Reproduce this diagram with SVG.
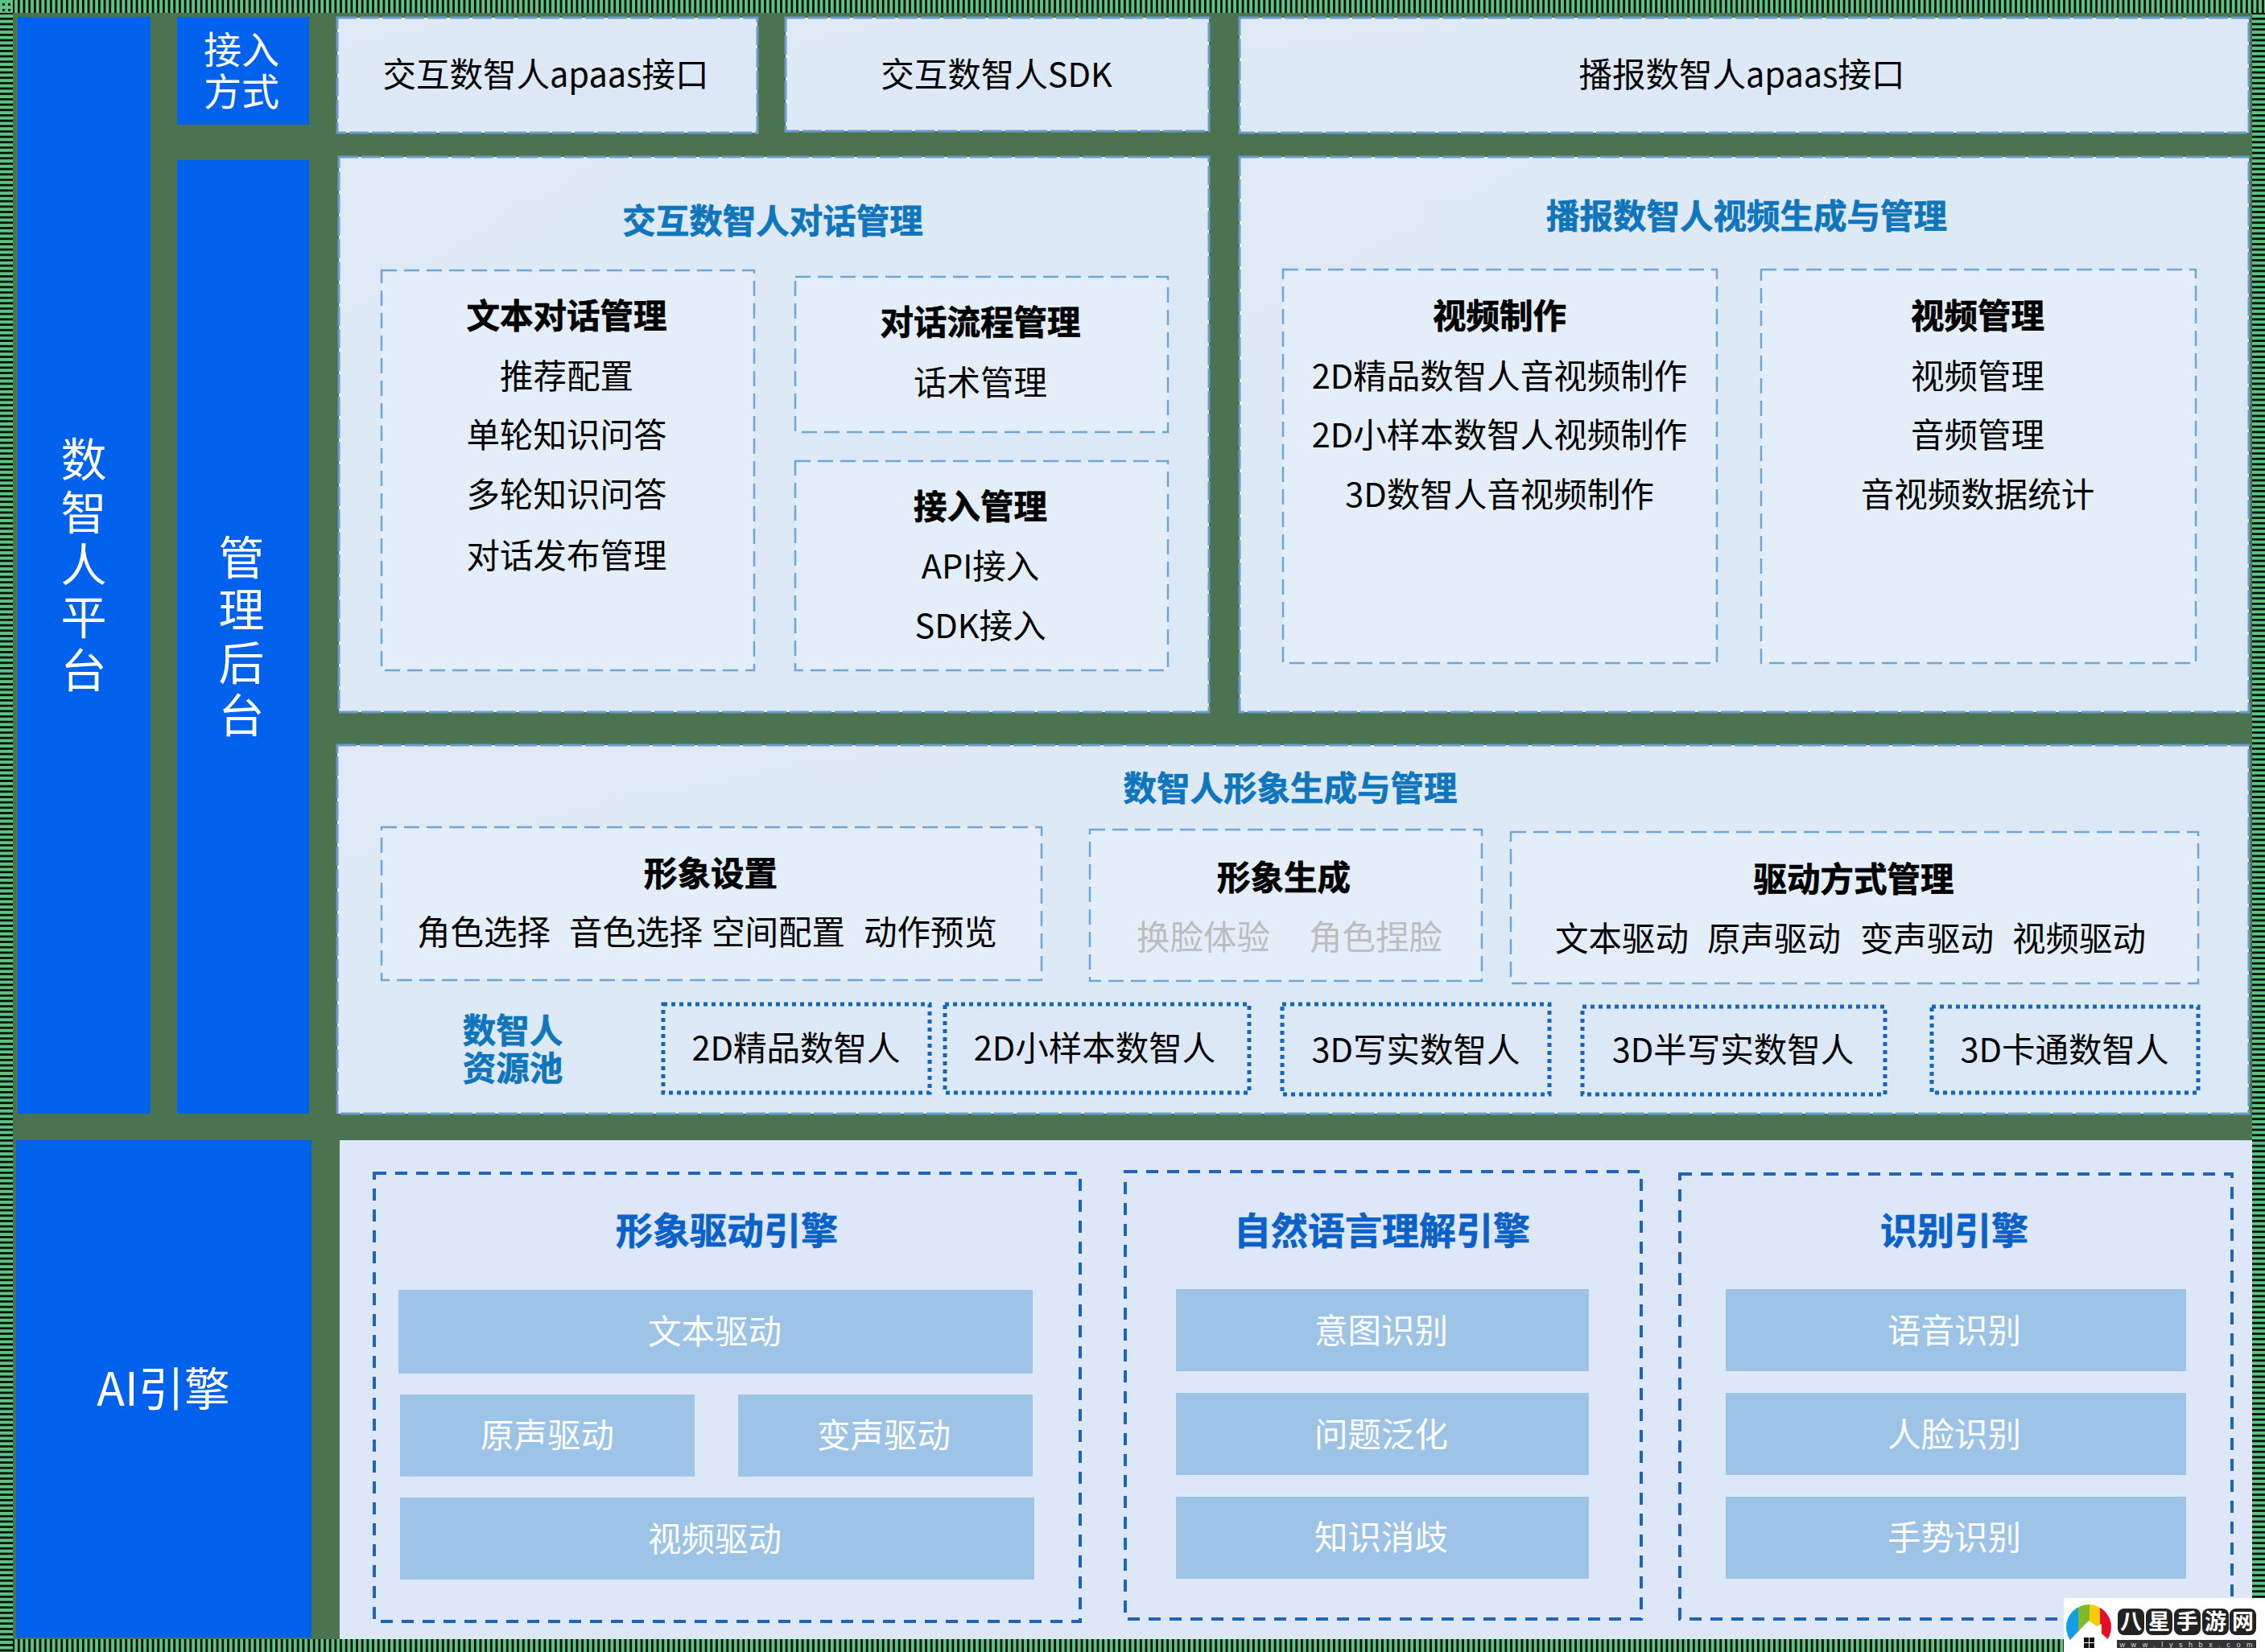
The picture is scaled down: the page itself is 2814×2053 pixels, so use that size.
<svg xmlns="http://www.w3.org/2000/svg" width="2814" height="2053" viewBox="0 0 2814 2053">
<style>
text{font-family:"Noto Sans CJK SC","Noto Sans",sans-serif;text-anchor:middle;font-size:41.500px;fill:#000}
.b{font-weight:700;stroke:#000;stroke-width:.7}
.t{font-weight:700;fill:#0f75bc;stroke:#0f75bc;stroke-width:.7}
.e{font-weight:700;font-size:46px;fill:#0a62c8;stroke:#0a62c8;stroke-width:.7}
.w{fill:#fff}
.g{fill:#bdbdbd}
.side{fill:#0062ec}
.pt{fill:url(#pg);stroke:#6a9bcb;stroke-width:3;stroke-dasharray:24 4}
.in{fill:#e3eef9;stroke:#6fa6d6;stroke-width:2.5;stroke-dasharray:19 9}
.dot{fill:none;stroke:#1467be;stroke-width:5;stroke-dasharray:5 5}
.en{fill:none;stroke:#1f64b8;stroke-width:4;stroke-dasharray:15 11}
.lb{fill:#9dc3e6}
.wm{font-weight:700;font-size:27px;fill:#fff}
.v{font-size:57px;fill:#fff}
.h{font-size:47px;fill:#fff}
</style>
<defs>
<linearGradient id="pg" x1="0" y1="0" x2="1" y2="1"><stop offset="0" stop-color="#dfeaf6"/><stop offset="1" stop-color="#dbe8f5"/></linearGradient>
<pattern id="hv" width="6.67" height="16" patternUnits="userSpaceOnUse"><rect width="6.67" height="16" fill="#5dc584"/><rect x="2" width="2.6" height="16" fill="#000"/></pattern>
<pattern id="hh" width="16" height="6.67" patternUnits="userSpaceOnUse"><rect width="16" height="6.67" fill="#5dc584"/><rect y="2" width="16" height="2.6" fill="#000"/></pattern>
<clipPath id="lc"><circle cx="2595" cy="2022" r="28"/></clipPath>
</defs>

<rect width="2814" height="2053" fill="#4c7350"/>
<g id="frame">
<rect x="16" y="0" width="2798" height="16" fill="url(#hv)"/>
<rect x="16" y="2037" width="2798" height="16" fill="url(#hv)"/>
<rect x="0" y="16" width="16" height="2037" fill="url(#hh)"/>
<rect x="2798" y="16" width="16" height="2037" fill="url(#hh)"/>
<rect width="16" height="16" fill="#5dc584"/>
<rect x="3" y="4" width="3" height="3" fill="#111"/><rect x="10" y="4" width="3" height="3" fill="#111"/><rect x="3" y="11" width="3" height="3" fill="#111"/><rect x="10" y="11" width="3" height="3" fill="#111"/>
</g>

<g id="side-platform"><rect class="side" x="22" y="21" width="165" height="1363"/>
<text class="v" x="104" y="592">数</text><text class="v" x="104" y="658">智</text><text class="v" x="104" y="723">人</text><text class="v" x="104" y="788">平</text><text class="v" x="104" y="854">台</text></g>
<g id="side-access"><rect class="side" x="220" y="21" width="164" height="134"/>
<text class="h" x="300" y="79">接入</text><text class="h" x="300" y="131">方式</text></g>
<g id="side-admin"><rect class="side" x="220" y="199" width="164" height="1185"/>
<text class="v" x="300" y="714">管</text><text class="v" x="300" y="779">理</text><text class="v" x="300" y="845">后</text><text class="v" x="300" y="910">台</text></g>
<g id="side-ai"><rect class="side" x="20" y="1417" width="367" height="618"/>
<text class="v" x="203" y="1747">AI引擎</text></g>

<g id="api-interactive"><rect class="pt" x="419" y="22" width="522" height="143"/><text x="678" y="108">交互数智人apaas接口</text></g>
<g id="sdk-interactive"><rect class="pt" x="976" y="22" width="526" height="141"/><text x="1238" y="108">交互数智人SDK</text></g>
<g id="api-broadcast"><rect class="pt" x="1540" y="22" width="1254" height="143"/><text x="2164" y="108">播报数智人apaas接口</text></g>

<g id="dialog-mgmt"><rect class="pt" x="421" y="195" width="1081" height="690"/>
<text class="t" x="960" y="290">交互数智人对话管理</text></g>
<g id="text-dialog"><rect class="in" x="474" y="336" width="463" height="497"/>
<text class="b" x="704" y="408">文本对话管理</text><text x="704" y="483">推荐配置</text><text x="704" y="556">单轮知识问答</text><text x="704" y="630">多轮知识问答</text><text x="704" y="706">对话发布管理</text></g>
<g id="flow-mgmt"><rect class="in" x="988" y="344" width="463" height="193"/>
<text class="b" x="1218" y="416">对话流程管理</text><text x="1218" y="491">话术管理</text></g>
<g id="access-mgmt"><rect class="in" x="988" y="573" width="463" height="260"/>
<text class="b" x="1218" y="645">接入管理</text><text x="1218" y="719">API接入</text><text x="1218" y="793">SDK接入</text></g>

<g id="video-mgmt"><rect class="pt" x="1540" y="195" width="1254" height="690"/>
<text class="t" x="2170" y="284">播报数智人视频生成与管理</text></g>
<g id="video-make"><rect class="in" x="1594" y="335" width="539" height="489"/>
<text class="b" x="1863" y="408">视频制作</text><text x="1863" y="483">2D精品数智人音视频制作</text><text x="1863" y="556">2D小样本数智人视频制作</text><text x="1863" y="630">3D数智人音视频制作</text></g>
<g id="video-manage"><rect class="in" x="2188" y="335" width="540" height="489"/>
<text class="b" x="2457" y="408">视频管理</text><text x="2457" y="483">视频管理</text><text x="2457" y="556">音频管理</text><text x="2457" y="630">音视频数据统计</text></g>

<g id="avatar-mgmt"><rect class="pt" x="419" y="926" width="2375" height="458"/>
<text class="t" x="1603" y="995">数智人形象生成与管理</text></g>
<g id="avatar-setting"><rect class="in" x="474" y="1028" width="820" height="190"/>
<text class="b" x="883" y="1101">形象设置</text><text x="601" y="1174">角色选择</text><text x="790" y="1174">音色选择</text><text x="967" y="1174">空间配置</text><text x="1156" y="1174">动作预览</text></g>
<g id="avatar-gen"><rect class="in" x="1354" y="1031" width="487" height="188"/>
<text class="b" x="1595" y="1106">形象生成</text><text class="g" x="1495" y="1180">换脸体验</text><text class="g" x="1709" y="1180">角色捏脸</text></g>
<g id="drive-mgmt"><rect class="in" x="1877" y="1034" width="854" height="188"/>
<text class="b" x="2303" y="1108">驱动方式管理</text><text x="2015" y="1182">文本驱动</text><text x="2204" y="1182">原声驱动</text><text x="2394" y="1182">变声驱动</text><text x="2583" y="1182">视频驱动</text></g>
<g id="resource-pool"><text class="t" x="637" y="1296">数智人</text><text class="t" x="637" y="1343">资源池</text></g>
<g id="res-2d-fine"><rect class="dot" x="824" y="1248" width="331" height="110"/><text x="989" y="1318">2D精品数智人</text></g>
<g id="res-2d-small"><rect class="dot" x="1174" y="1248" width="378" height="110"/><text x="1360" y="1318">2D小样本数智人</text></g>
<g id="res-3d-real"><rect class="dot" x="1593" y="1248" width="332" height="112"/><text x="1759" y="1320">3D写实数智人</text></g>
<g id="res-3d-semi"><rect class="dot" x="1966" y="1251" width="376" height="109"/><text x="2153" y="1320">3D半写实数智人</text></g>
<g id="res-3d-cartoon"><rect class="dot" x="2400" y="1251" width="331" height="107"/><text x="2565" y="1320">3D卡通数智人</text></g>

<rect id="engine-panel" x="422" y="1417" width="2376" height="620" fill="#dde7f8"/>
<g id="engine-avatar"><rect class="en" x="465" y="1458" width="877" height="557"/>
<text class="e" x="903" y="1546">形象驱动引擎</text>
<rect class="lb" x="495" y="1603" width="788" height="104"/><text class="w" x="888" y="1670">文本驱动</text>
<rect class="lb" x="497" y="1733" width="366" height="102"/><text class="w" x="680" y="1799">原声驱动</text>
<rect class="lb" x="917" y="1733" width="366" height="102"/><text class="w" x="1098" y="1799">变声驱动</text>
<rect class="lb" x="497" y="1861" width="788" height="102"/><text class="w" x="888" y="1928">视频驱动</text></g>
<g id="engine-nlu"><rect class="en" x="1398" y="1456" width="641" height="556"/>
<text class="e" x="1717" y="1546">自然语言理解引擎</text>
<rect class="lb" x="1461" y="1602" width="513" height="102"/><text class="w" x="1716" y="1669">意图识别</text>
<rect class="lb" x="1461" y="1731" width="513" height="102"/><text class="w" x="1716" y="1798">问题泛化</text>
<rect class="lb" x="1461" y="1860" width="513" height="102"/><text class="w" x="1716" y="1926">知识消歧</text></g>
<g id="engine-recognition"><rect class="en" x="2087" y="1459" width="686" height="553"/>
<text class="e" x="2428" y="1546">识别引擎</text>
<rect class="lb" x="2144" y="1602" width="572" height="102"/><text class="w" x="2428" y="1669">语音识别</text>
<rect class="lb" x="2144" y="1731" width="572" height="102"/><text class="w" x="2428" y="1798">人脸识别</text>
<rect class="lb" x="2144" y="1860" width="572" height="102"/><text class="w" x="2428" y="1926">手势识别</text></g>

<g id="watermark">
<rect x="2564" y="1986" width="250" height="67" fill="#fff"/>
<g clip-path="url(#lc)">
<rect x="2566" y="1990" width="16" height="50" fill="#0f9fe6"/><rect x="2582" y="1990" width="14" height="50" fill="#7ebb2e"/><rect x="2596" y="1990" width="13" height="50" fill="#fdcb05"/><rect x="2609" y="1990" width="16" height="50" fill="#e60d26"/>
</g>
<polygon points="2566,2053 2566,2044 2595,2014 2605,2021 2611,2018 2611,2030 2624,2042 2624,2053" fill="#fff"/>
<rect x="2589" y="2035" width="6" height="6" fill="#111"/><rect x="2596" y="2035" width="6" height="6" fill="#111"/><rect x="2589" y="2042" width="6" height="6" fill="#111"/><rect x="2596" y="2042" width="6" height="6" fill="#111"/>
<rect x="2631" y="1999" width="33" height="33" rx="8" fill="#222"/><text class="wm" x="2647.500" y="2025">八</text>
<rect x="2666" y="1999" width="33" height="33" rx="8" fill="#222"/><text class="wm" x="2682.500" y="2025">星</text>
<rect x="2701" y="1999" width="33" height="33" rx="8" fill="#222"/><text class="wm" x="2717.500" y="2025">手</text>
<rect x="2736" y="1999" width="33" height="33" rx="8" fill="#222"/><text class="wm" x="2752.500" y="2025">游</text>
<rect x="2770" y="1999" width="33" height="33" rx="8" fill="#222"/><text class="wm" x="2786.500" y="2025">网</text>
<rect x="2630" y="2038" width="173" height="10" fill="#333"/>
<text x="2716" y="2046.500" textLength="165" style="font-size:9px;fill:#ddd;font-family:'Liberation Sans',sans-serif">www.lyshbx.com</text>
</g>
</svg>
